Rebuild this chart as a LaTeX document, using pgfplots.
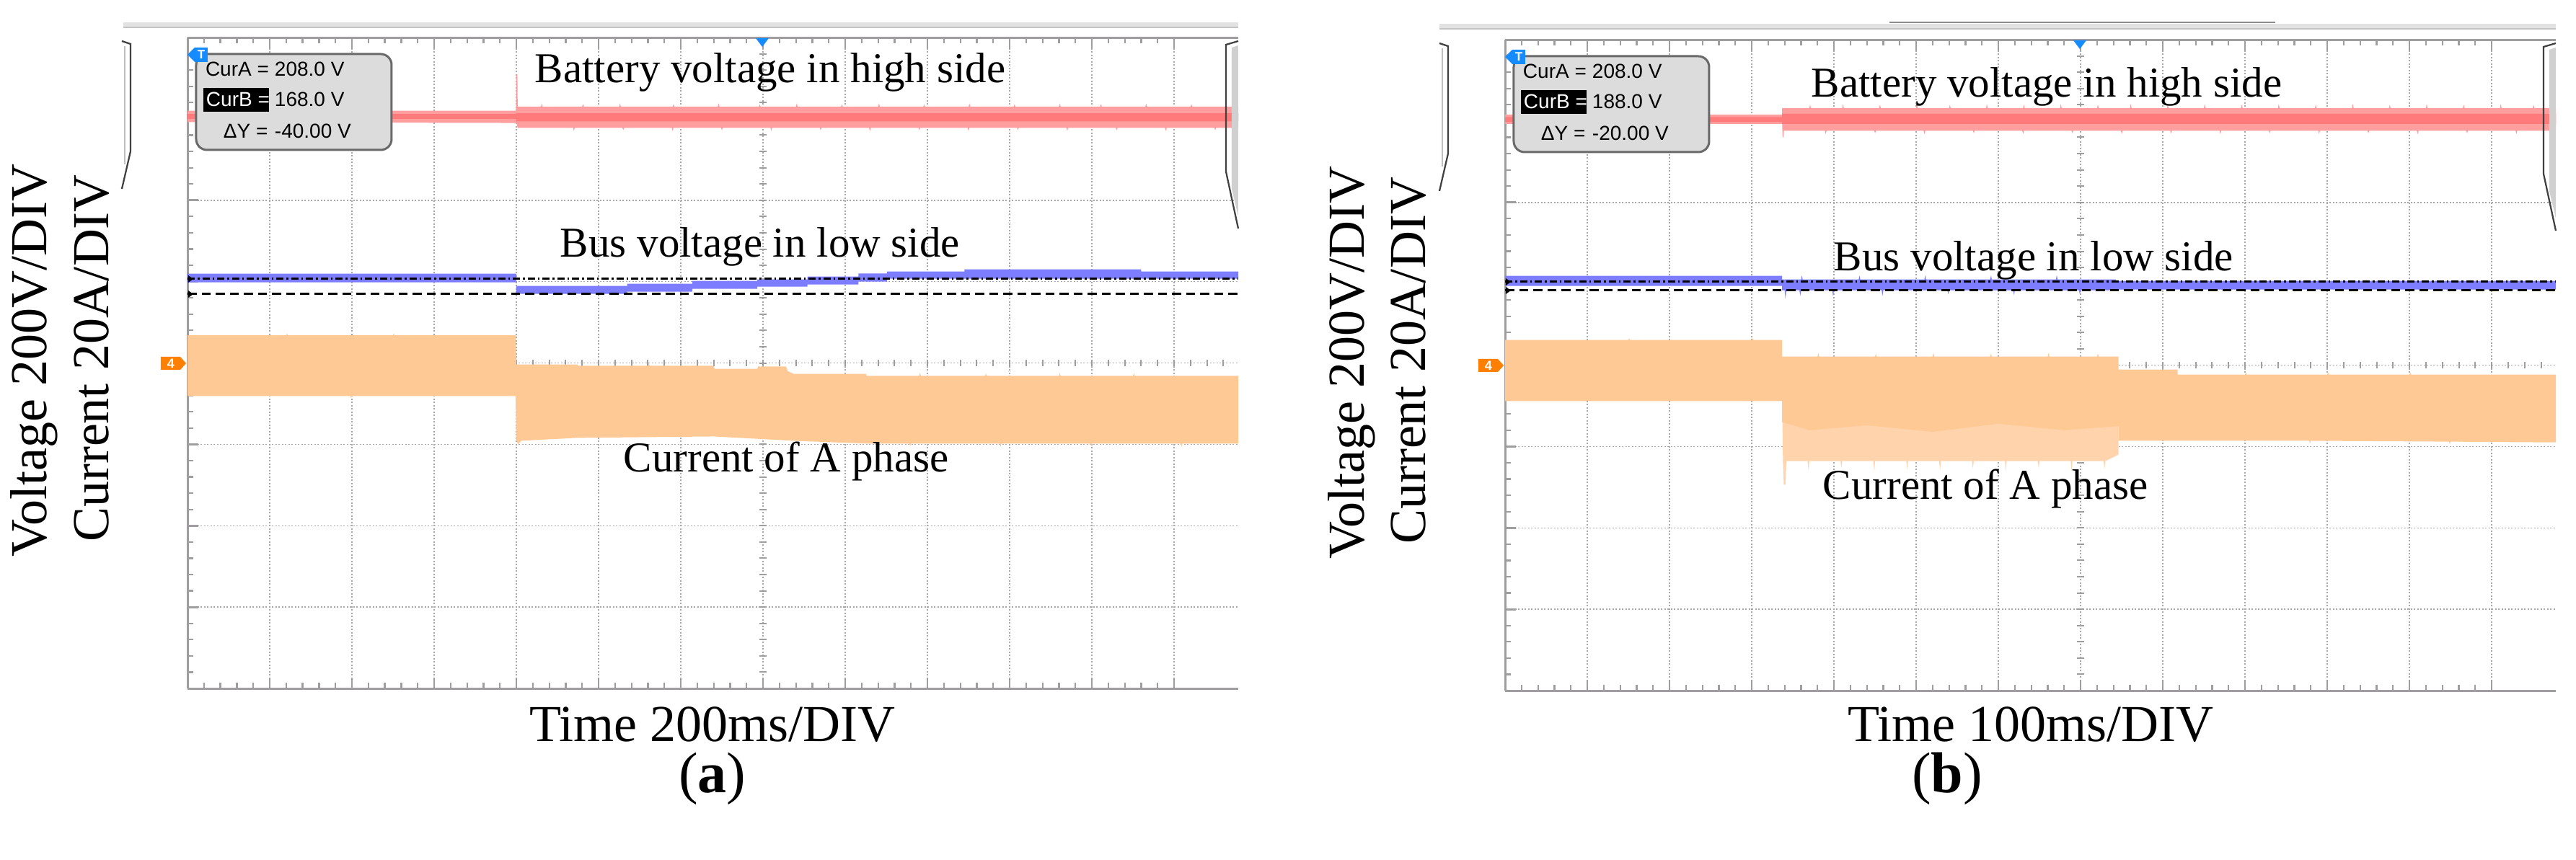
\documentclass[border=0pt]{standalone}
\usepackage{fontspec}
\setmainfont{Liberation Serif}
\newfontfamily\scopefont{Liberation Sans}
\usepackage{pgfplots}
\pgfplotsset{compat=1.18}

\definecolor{framegray}{RGB}{160,157,160}
\definecolor{gridgray}{RGB}{168,168,168}
\definecolor{redout}{RGB}{255,158,158}
\definecolor{redcore}{RGB}{255,122,122}
\definecolor{bluetr}{RGB}{125,125,255}
\definecolor{orangetr}{RGB}{255,201,150}
\definecolor{orangelight}{RGB}{255,212,172}
\definecolor{markorange}{RGB}{255,128,0}
\definecolor{markblue}{RGB}{20,140,255}
\definecolor{boxgray}{RGB}{220,220,220}
\definecolor{boxedge}{RGB}{105,105,105}
\definecolor{hdrgray}{RGB}{226,226,226}
\definecolor{hdrdark}{RGB}{196,196,196}
\definecolor{bracketgray}{RGB}{208,208,208}

\newcommand{\lblfont}{\fontsize{14.4}{17}\selectfont}
\newcommand{\infont}{\fontsize{11.8}{14}\selectfont}
\newcommand{\boxfont}{\scopefont\fontsize{5.6}{6.5}\selectfont}

\pgfplotsset{
  scopeaxis/.style={
    anchor=south west,
    scale only axis, width=291.4pt, height=180.6pt,
    xmin=0, xmax=12.78, ymin=-4, ymax=4,
    xtick={0,...,12}, ytick={-4,...,4},
    minor x tick num=4, minor y tick num=4,
    xticklabels={}, yticklabels={},
    axis x line*=box, axis y line*=left,
    tick align=inside,
    major tick length=3pt, minor tick length=1.6pt,
    every tick/.style={framegray, line width=0.55pt},
    every minor tick/.append style={line width=0.45pt},
    axis line style={framegray, line width=0.6pt},
    grid=major,
    major grid style={gridgray, line width=0.3pt, dash pattern=on 0.4pt off 0.5pt},
    clip=true,
  }
}

% decorations of one scope screen, in pixels of the reference, panel-local
\newcommand{\paneldeco}[2]{%
  \draw[black!75, line width=0.45pt] (169,57) -- (181,61) -- (181,210) -- (169,262);
  \draw[black!25, line width=0.5pt] (173,64) -- (173,228);
  \fill[bracketgray] (1708,66) -- (1717,63) -- (1717,300) -- (1708,262) -- cycle;
  \draw[black!75, line width=0.45pt] (1717,57) -- (1700,62) -- (1700,238) -- (1717,317);
  \draw[boxedge, fill=boxgray, line width=0.6pt, rounded corners=3pt] (272,75) rectangle (543,208);
  \fill[black] (282,122) rectangle (373,155);
  \node[anchor=base west, inner sep=0] at (284,106) {\boxfont CurA =};
  \node[anchor=base west, inner sep=0] at (380,106) {\boxfont 208.0 V};
  \node[anchor=base west, inner sep=0, text=white] at (285,148) {\boxfont CurB =};
  \node[anchor=base west, inner sep=0] at (380,148) {\boxfont #1};
  \node[anchor=base west, inner sep=0] at (309,192) {\boxfont ΔY =};
  \node[anchor=base west, inner sep=0] at (380,192) {\boxfont #2};
  \fill[markblue] (260,76) -- (270,66) -- (288,66) -- (288,86) -- (270,86) -- cycle;
  \node[text=white, inner sep=0] at (279,76) {\scopefont\bfseries\fontsize{3.4}{4}\selectfont T};
  \fill[markblue] (1048,53) -- (1066,53) -- (1057,65) -- cycle;
  \fill[markorange] (223,495) -- (250,495) -- (258,504) -- (250,513) -- (223,513) -- cycle;
  \node[text=white, inner sep=0] at (237,504) {\scopefont\bfseries\fontsize{3.6}{4}\selectfont 4};
}

\begin{document}
\begin{tikzpicture}
\path[use as bounding box] (0,0) rectangle (714.4pt,238.4pt);

% ================= LEFT PANEL =================
\begin{axis}[scopeaxis, at={(52pt,47.4pt)}]
\pgfplotsinvokeforeach{1,...,39}{\draw[framegray,line width=0.4pt] (axis cs:6.956,{-4+0.2*#1}) -- (axis cs:7.044,{-4+0.2*#1});}
\pgfplotsinvokeforeach{1,...,63}{\draw[framegray,line width=0.4pt] (axis cs:{0.2*#1},-0.044) -- (axis cs:{0.2*#1},0.044);}
% current of A phase
\addplot[fill=orangetr, draw=none] coordinates {
(0,0.34)(1.2,0.34)(1.21,0.36)(1.22,0.34)(2.5,0.34)(2.51,0.36)(2.52,0.34)(3.99,0.34)
(4.0,-0.018)(4.74,-0.018)(4.75,-0.035)(5.6,-0.035)(5.61,0.0)(5.62,-0.035)(6.40,-0.035)(6.41,-0.071)
(6.93,-0.071)(6.94,-0.044)(7.28,-0.044)(7.30,-0.10)(7.37,-0.133)(8.25,-0.133)(8.26,-0.159)
(8.9,-0.159)(8.91,-0.12)(8.92,-0.159)(9.7,-0.159)(9.71,-0.125)(9.72,-0.159)(10.6,-0.159)(10.61,-0.12)(10.62,-0.159)
(11.5,-0.159)(11.51,-0.125)(11.52,-0.159)(12.78,-0.159)
(12.78,-0.99)(12.1,-0.99)(12.09,-1.03)(12.08,-0.99)(11.0,-0.99)(10.99,-1.02)(10.98,-0.99)(9.9,-0.99)(9.89,-1.03)(9.88,-0.99)
(8.8,-0.99)(8.79,-1.02)(8.78,-0.99)(8.25,-0.99)(7.37,-0.956)(6.40,-0.903)(4.74,-0.92)(4.06,-0.956)(4.02,-1.0)(4.0,-0.95)
(3.99,-0.407)(2.0,-0.407)(1.99,-0.43)(1.98,-0.407)(0,-0.407)} -- cycle;
% bus voltage in low side
\addplot[fill=bluetr, draw=none] coordinates {
(0,1.097)(4.0,1.097)(4.0,0.947)(5.35,0.947)(5.35,0.973)(6.14,0.973)(6.14,1.009)(6.93,1.009)(6.93,1.027)
(7.54,1.027)(7.54,1.062)(8.16,1.062)(8.16,1.10)(8.51,1.10)(8.51,1.124)(9.45,1.124)(9.45,1.15)(11.6,1.15)(11.6,1.124)(12.78,1.124)
(12.78,1.035)(8.51,1.035)(8.51,1.0)(8.16,1.0)(8.16,0.965)(7.54,0.965)(7.54,0.938)(6.93,0.938)(6.93,0.912)
(6.14,0.912)(6.14,0.876)(5.35,0.876)(5.35,0.85)(4.0,0.85)(4.0,0.991)(0,0.991)} -- cycle;
% battery voltage in high side
\addplot[fill=redout, draw=none] coordinates {
(0,3.10)(3.995,3.10)(4.0,3.55)(4.012,3.55)(4.016,3.15)
(4.30,3.15)(4.31,3.19)(4.32,3.15)(4.80,3.15)(4.81,3.18)(4.82,3.15)(5.25,3.15)(5.26,3.19)(5.27,3.15)
(5.90,3.15)(5.91,3.18)(5.92,3.15)(6.45,3.15)(6.46,3.19)(6.47,3.15)(6.95,3.15)(6.96,3.18)(6.97,3.15)
(7.40,3.15)(7.41,3.19)(7.42,3.15)(7.95,3.15)(7.96,3.18)(7.97,3.15)(8.40,3.15)(8.41,3.19)(8.42,3.15)
(8.95,3.15)(8.96,3.18)(8.97,3.15)(9.50,3.15)(9.51,3.19)(9.52,3.15)(10.05,3.15)(10.06,3.18)(10.07,3.15)
(10.60,3.15)(10.61,3.19)(10.62,3.15)(11.10,3.15)(11.11,3.18)(11.12,3.15)(11.65,3.15)(11.66,3.19)(11.67,3.15)
(12.20,3.15)(12.21,3.18)(12.22,3.15)(12.78,3.15)
(12.78,2.89)(12.51,2.89)(12.50,2.86)(12.49,2.89)(11.91,2.89)(11.90,2.85)(11.89,2.89)(11.31,2.89)(11.30,2.86)(11.29,2.89)
(10.71,2.89)(10.70,2.85)(10.69,2.89)(10.11,2.89)(10.10,2.86)(10.09,2.89)(9.51,2.89)(9.50,2.85)(9.49,2.89)
(8.91,2.89)(8.90,2.86)(8.89,2.89)(8.31,2.89)(8.30,2.85)(8.29,2.89)(7.71,2.89)(7.70,2.86)(7.69,2.89)
(7.11,2.89)(7.10,2.85)(7.09,2.89)(6.51,2.89)(6.50,2.86)(6.49,2.89)(5.91,2.89)(5.90,2.85)(5.89,2.89)
(5.31,2.89)(5.30,2.86)(5.29,2.89)(4.71,2.89)(4.70,2.85)(4.69,2.89)(4.016,2.89)(4.0,2.95)(0,2.96)} -- cycle;
\addplot[fill=redcore, draw=none] coordinates {
(0,3.06)(4.0,3.06)(4.0,3.07)(12.78,3.07)(12.78,2.97)(4.0,2.97)(4.0,3.0)(0,3.0)} -- cycle;
% cursors
\addplot[black, line width=0.5pt, dash pattern=on 2pt off 0.8pt on 0.5pt off 0.8pt] coordinates {(0,1.035)(12.78,1.035)};
\addplot[black, line width=0.5pt, dash pattern=on 2.5pt off 1.4pt] coordinates {(0,0.85)(12.78,0.85)};
\end{axis}

% ================= RIGHT PANEL =================
\begin{axis}[scopeaxis, at={(417.4pt,46.8pt)}]
\pgfplotsinvokeforeach{1,...,39}{\draw[framegray,line width=0.4pt] (axis cs:6.956,{-4+0.2*#1}) -- (axis cs:7.044,{-4+0.2*#1});}
\pgfplotsinvokeforeach{1,...,63}{\draw[framegray,line width=0.4pt] (axis cs:{0.2*#1},-0.044) -- (axis cs:{0.2*#1},0.044);}
% current of A phase, striped lower part of the transient
\addplot[fill=orangelight, draw=none] coordinates {
(3.37,-0.55)(7.46,-0.55)(7.46,-1.10)(7.3,-1.18)(7.29,-1.28)(7.28,-1.18)(6.9,-1.18)(6.89,-1.30)(6.88,-1.18)
(6.5,-1.18)(6.49,-1.27)(6.48,-1.18)(6.1,-1.18)(6.09,-1.31)(6.08,-1.18)(5.7,-1.18)(5.69,-1.27)(5.68,-1.18)
(5.3,-1.18)(5.29,-1.30)(5.28,-1.18)(4.9,-1.18)(4.89,-1.28)(4.88,-1.18)(4.5,-1.18)(4.49,-1.31)(4.48,-1.18)
(4.1,-1.18)(4.09,-1.27)(4.08,-1.18)(3.7,-1.18)(3.69,-1.29)(3.68,-1.18)(3.42,-1.18)(3.41,-1.47)(3.39,-1.47)(3.38,-1.18)} -- cycle;
\addplot[fill=orangetr, draw=none] coordinates {
(0,0.31)(1.5,0.31)(1.51,0.33)(1.52,0.31)(3.0,0.31)(3.01,0.33)(3.02,0.31)(3.37,0.31)
(3.37,0.106)(3.8,0.106)(3.81,0.15)(3.82,0.106)(4.5,0.106)(4.51,0.14)(4.52,0.106)(5.2,0.106)(5.21,0.15)(5.22,0.106)
(5.9,0.106)(5.91,0.14)(5.92,0.106)(6.6,0.106)(6.61,0.15)(6.62,0.106)(7.2,0.106)(7.21,0.14)(7.22,0.106)(7.46,0.106)
(7.46,-0.053)(8.18,-0.053)(8.18,-0.115)(9.0,-0.115)(9.01,-0.09)(9.02,-0.115)(10.0,-0.115)(10.01,-0.09)(10.02,-0.115)
(11.0,-0.115)(11.01,-0.09)(11.02,-0.115)(12.78,-0.115)
(12.78,-0.95)(11.5,-0.94)(11.49,-0.97)(11.48,-0.94)(9.8,-0.93)(9.79,-0.96)(9.78,-0.93)(7.46,-0.93)
(7.46,-0.75)(6.8,-0.80)(6.0,-0.72)(5.2,-0.82)(4.4,-0.74)(3.7,-0.80)(3.37,-0.70)(3.37,-0.442)(0,-0.442)} -- cycle;
% bus voltage in low side
\addplot[fill=bluetr, draw=none] coordinates {
(0,1.097)(3.37,1.097)(3.37,1.053)(3.6,1.053)(3.61,1.10)(3.62,1.053)(4.3,1.053)(4.31,1.10)(4.32,1.053)
(5.1,1.053)(5.11,1.105)(5.12,1.053)(5.9,1.053)(5.91,1.10)(5.92,1.053)(6.7,1.053)(6.71,1.105)(6.72,1.053)
(7.43,1.053)(7.43,1.035)(12.78,1.035)
(12.78,0.929)(7.43,0.929)(7.43,0.92)(7.0,0.92)(6.99,0.87)(6.98,0.92)(6.2,0.92)(6.19,0.86)(6.18,0.92)
(5.4,0.92)(5.39,0.87)(5.38,0.92)(4.6,0.92)(4.59,0.85)(4.58,0.92)(4.0,0.92)(3.99,0.84)(3.98,0.92)
(3.6,0.92)(3.59,0.85)(3.58,0.92)(3.42,0.92)(3.41,0.814)(3.40,0.92)(3.37,0.92)(3.37,0.973)(0,0.973)} -- cycle;
% battery voltage in high side
\addplot[fill=redout, draw=none] coordinates {
(0,3.08)(3.37,3.08)(3.37,3.16)
(3.70,3.16)(3.71,3.20)(3.72,3.16)(4.10,3.16)(4.11,3.21)(4.12,3.16)(4.55,3.16)(4.56,3.20)(4.57,3.16)
(5.00,3.16)(5.01,3.21)(5.02,3.16)(5.40,3.16)(5.41,3.20)(5.42,3.16)(5.85,3.16)(5.86,3.21)(5.87,3.16)
(6.30,3.16)(6.31,3.20)(6.32,3.16)(6.75,3.16)(6.76,3.21)(6.77,3.16)(7.20,3.16)(7.21,3.20)(7.22,3.16)
(7.60,3.16)(7.61,3.21)(7.62,3.16)(8.05,3.16)(8.06,3.20)(8.07,3.16)(8.50,3.16)(8.51,3.21)(8.52,3.16)
(8.95,3.16)(8.96,3.20)(8.97,3.16)(9.40,3.16)(9.41,3.21)(9.42,3.16)(9.85,3.16)(9.86,3.20)(9.87,3.16)
(10.30,3.16)(10.31,3.21)(10.32,3.16)(10.75,3.16)(10.76,3.20)(10.77,3.16)(11.20,3.16)(11.21,3.21)(11.22,3.16)
(11.65,3.16)(11.66,3.20)(11.67,3.16)(12.10,3.16)(12.11,3.21)(12.12,3.16)(12.50,3.16)(12.51,3.20)(12.52,3.16)(12.78,3.16)
(12.78,2.88)(12.31,2.88)(12.30,2.84)(12.29,2.88)(11.71,2.88)(11.70,2.85)(11.69,2.88)(11.11,2.88)(11.10,2.84)(11.09,2.88)
(10.51,2.88)(10.50,2.85)(10.49,2.88)(9.91,2.88)(9.90,2.84)(9.89,2.88)(9.31,2.88)(9.30,2.85)(9.29,2.88)
(8.71,2.88)(8.70,2.84)(8.69,2.88)(8.11,2.88)(8.10,2.85)(8.09,2.88)(7.51,2.88)(7.50,2.84)(7.49,2.88)
(6.91,2.88)(6.90,2.85)(6.89,2.88)(6.31,2.88)(6.30,2.84)(6.29,2.88)(5.71,2.88)(5.70,2.85)(5.69,2.88)
(5.11,2.88)(5.10,2.84)(5.09,2.88)(4.51,2.88)(4.50,2.85)(4.49,2.88)(3.91,2.88)(3.90,2.84)(3.89,2.88)
(3.39,2.88)(3.385,2.80)(3.375,2.80)(3.37,2.965)(0,2.965)} -- cycle;
\addplot[fill=redcore, draw=none] coordinates {
(0,3.05)(3.37,3.05)(3.37,3.09)(12.78,3.09)(12.78,2.965)(3.37,2.965)(3.37,2.99)(0,2.99)} -- cycle;
% cursors
\addplot[black, line width=0.5pt, dash pattern=on 2pt off 0.8pt on 0.5pt off 0.8pt] coordinates {(0,1.027)(12.78,1.027)};
\addplot[black, line width=0.5pt, dash pattern=on 2.5pt off 1.4pt] coordinates {(0,0.92)(12.78,0.92)};
\end{axis}

% ================= DECORATIONS (reference pixels) =================
\begin{scope}[x=0.2pt, y=-0.2pt, yshift=238.4pt]
  \fill[hdrgray] (171,31) rectangle (1717,38);
  \draw[hdrdark, line width=0.3pt] (171,38) -- (1717,38);
  \fill[hdrgray] (1996,33) rectangle (3544,40);
  \draw[hdrdark, line width=0.3pt] (1996,40) -- (3544,40);
  \draw[black!45, line width=0.3pt] (2620,31) -- (3155,31);
  \paneldeco{168.0 V}{-40.00 V}
  \begin{scope}[shift={(1827,3)}]
    \paneldeco{188.0 V}{-20.00 V}
  \end{scope}
  \fill[black] (261,382) -- (268,387) -- (261,392) -- cycle;
  \fill[black] (261,403) -- (268,408) -- (261,413) -- cycle;
  \fill[black] (2088,386) -- (2095,391) -- (2088,396) -- cycle;
  \fill[black] (2088,398) -- (2095,403) -- (2088,408) -- cycle;
  \node[anchor=base west, inner sep=0] at (741,115) {\infont Battery voltage in high side};
  \node[anchor=base west, inner sep=0] at (776,357) {\infont Bus voltage in low side};
  \node[anchor=base west, inner sep=0] at (864,655) {\infont Current of A phase};
  \node[anchor=base west, inner sep=0] at (2511,135) {\infont Battery voltage in high side};
  \node[anchor=base west, inner sep=0] at (2542,376) {\infont Bus voltage in low side};
  \node[anchor=base west, inner sep=0] at (2527,693) {\infont Current of A phase};
  \node[rotate=90, anchor=base, inner sep=0] at (65,500) {\lblfont Voltage 200V/DIV};
  \node[rotate=90, anchor=base, inner sep=0] at (150,497) {\lblfont Current 20A/DIV};
  \node[rotate=90, anchor=base, inner sep=0] at (1892,503) {\lblfont Voltage 200V/DIV};
  \node[rotate=90, anchor=base, inner sep=0] at (1977,500) {\lblfont Current 20A/DIV};
  \node[anchor=base, inner sep=0] at (988,1029) {\lblfont Time 200ms/DIV};
  \node[anchor=base, inner sep=0] at (2816,1029) {\lblfont Time 100ms/DIV};
  \node[anchor=base, inner sep=0] at (988,1100) {\fontsize{16}{19}\selectfont (\textbf{a})};
  \node[anchor=base, inner sep=0] at (2700,1100) {\fontsize{16}{19}\selectfont (\textbf{b})};
\end{scope}
\end{tikzpicture}
\end{document}
